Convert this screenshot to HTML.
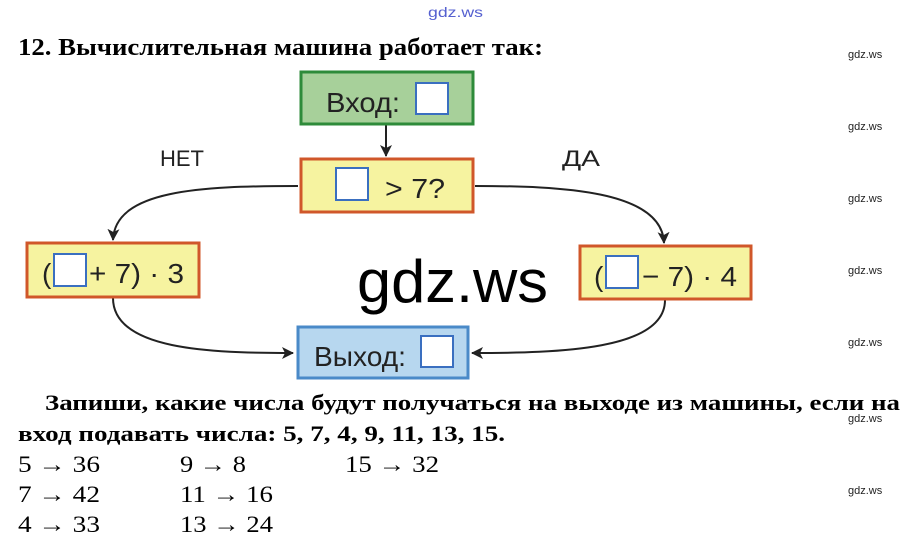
<!DOCTYPE html>
<html><head><meta charset="utf-8"><style>
html,body{margin:0;padding:0;background:#fff;}
svg{display:block;}
.s{font-family:"Liberation Serif",serif;}
.a{font-family:"Liberation Sans",sans-serif;}
</style></head><body>
<svg width="910" height="546" viewBox="0 0 910 546" xmlns="http://www.w3.org/2000/svg">
<defs><marker id="ar" markerWidth="12" markerHeight="12" refX="11" refY="6" orient="auto" markerUnits="userSpaceOnUse"><path d="M0,0 L12,6 L0,12 L3,6 Z" fill="#222"/></marker></defs>
<text x="428" y="17" class="a" font-size="14" fill="#5560d0" textLength="55" lengthAdjust="spacingAndGlyphs">gdz.ws</text>
<text x="18" y="55" class="s" font-size="24" font-weight="bold" textLength="525" lengthAdjust="spacingAndGlyphs">12. Вычислительная машина работает так:</text>
<g class="a" font-size="11" fill="#222">
<text x="848" y="58">gdz.ws</text><text x="848" y="130">gdz.ws</text><text x="848" y="202">gdz.ws</text><text x="848" y="274">gdz.ws</text><text x="848" y="346">gdz.ws</text><text x="848" y="422">gdz.ws</text><text x="848" y="494">gdz.ws</text>
</g>
<g fill="none" stroke="#222" stroke-width="2">
<path d="M386 125 L386 156" marker-end="url(#ar)"/>
<path d="M298 186 C200 186 115 190 113 240" marker-end="url(#ar)"/>
<path d="M475 186 C560 186 662 190 664 243" marker-end="url(#ar)"/>
<path d="M113 298 C113 350 210 353 293 353" marker-end="url(#ar)"/>
<path d="M665 300 C665 350 560 353 472 353" marker-end="url(#ar)"/>
</g>
<rect x="301" y="72" width="172" height="52" fill="#a7d09a" stroke="#2e8b3a" stroke-width="3"/>
<text x="326" y="112" class="a" font-size="28" fill="#222" textLength="74" lengthAdjust="spacingAndGlyphs">Вход:</text>
<rect x="416" y="83" width="32" height="31" fill="#fff" stroke="#3a6fc0" stroke-width="2"/>
<rect x="301" y="159" width="172" height="53" fill="#f6f3a0" stroke="#d0572a" stroke-width="3"/>
<rect x="336" y="168" width="32" height="32" fill="#fff" stroke="#3a6fc0" stroke-width="2"/>
<text x="385" y="198" class="a" font-size="28" fill="#222" textLength="60" lengthAdjust="spacingAndGlyphs">&gt; 7?</text>
<rect x="27" y="243" width="172" height="54" fill="#f6f3a0" stroke="#d0572a" stroke-width="3"/>
<text x="42" y="283" class="a" font-size="28" fill="#222">(</text>
<rect x="54" y="254" width="32" height="32" fill="#fff" stroke="#3a6fc0" stroke-width="2"/>
<text x="89" y="283" class="a" font-size="28" fill="#222" textLength="95" lengthAdjust="spacingAndGlyphs">+ 7) · 3</text>
<rect x="580" y="246" width="171" height="53" fill="#f6f3a0" stroke="#d0572a" stroke-width="3"/>
<text x="594" y="286" class="a" font-size="28" fill="#222">(</text>
<rect x="606" y="256" width="32" height="32" fill="#fff" stroke="#3a6fc0" stroke-width="2"/>
<text x="642" y="286" class="a" font-size="28" fill="#222" textLength="95" lengthAdjust="spacingAndGlyphs">− 7) · 4</text>
<rect x="298" y="327" width="170" height="51" fill="#b7d7ef" stroke="#4a8ac8" stroke-width="3"/>
<text x="314" y="366" class="a" font-size="28" fill="#222" textLength="92" lengthAdjust="spacingAndGlyphs">Выход:</text>
<rect x="421" y="336" width="32" height="31" fill="#fff" stroke="#3a6fc0" stroke-width="2"/>
<text x="160" y="166" class="a" font-size="22" fill="#222" textLength="44" lengthAdjust="spacingAndGlyphs">НЕТ</text>
<text x="562" y="166" class="a" font-size="22" fill="#222" textLength="38" lengthAdjust="spacingAndGlyphs">ДА</text>
<text x="357" y="302" class="a" font-size="60" fill="#000" textLength="191" lengthAdjust="spacingAndGlyphs">gdz.ws</text>
<text x="45" y="410" class="s" font-size="22" font-weight="bold" textLength="855" lengthAdjust="spacingAndGlyphs">Запиши, какие числа будут получаться на выходе из машины, если на</text>
<text x="18" y="441" class="s" font-size="22" font-weight="bold" textLength="487" lengthAdjust="spacingAndGlyphs">вход подавать числа: 5, 7, 4, 9, 11, 13, 15.</text>
<g class="s" font-size="23">
<text x="18" y="472" textLength="82" lengthAdjust="spacingAndGlyphs">5 → 36</text><text x="180" y="472" textLength="66" lengthAdjust="spacingAndGlyphs">9 → 8</text><text x="345" y="472" textLength="94" lengthAdjust="spacingAndGlyphs">15 → 32</text>
<text x="18" y="502" textLength="82" lengthAdjust="spacingAndGlyphs">7 → 42</text><text x="180" y="502" textLength="93" lengthAdjust="spacingAndGlyphs">11 → 16</text>
<text x="18" y="532" textLength="82" lengthAdjust="spacingAndGlyphs">4 → 33</text><text x="180" y="532" textLength="93" lengthAdjust="spacingAndGlyphs">13 → 24</text>
</g>
</svg>
</body></html>
